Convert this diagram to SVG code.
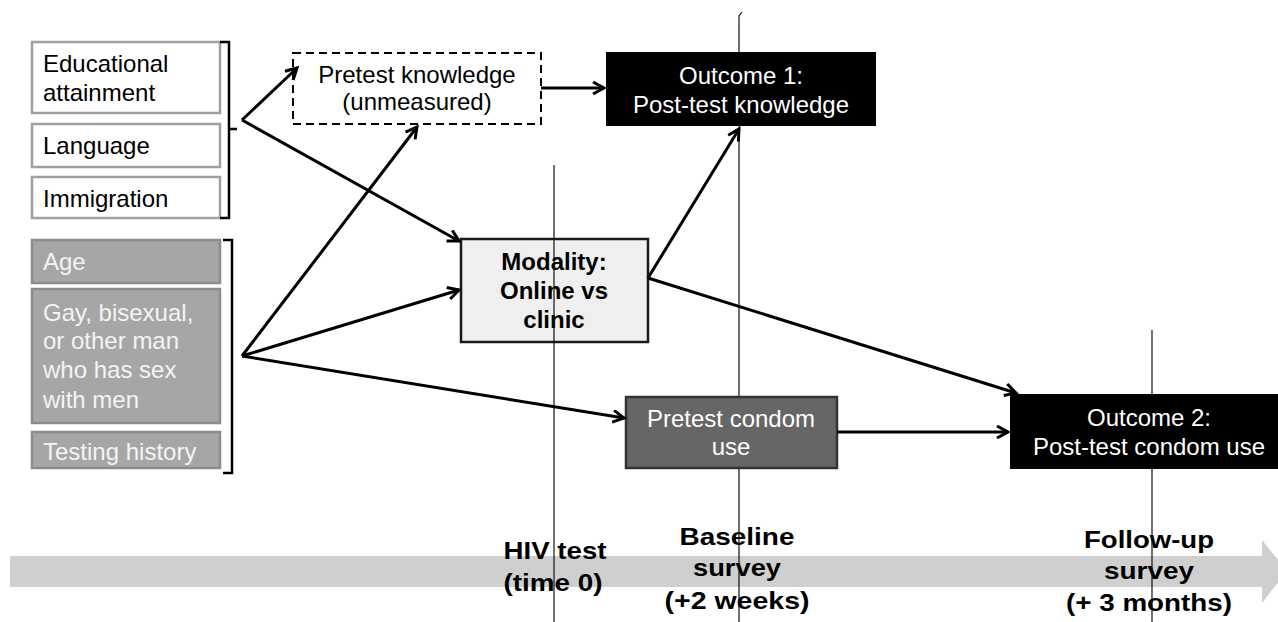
<svg xmlns="http://www.w3.org/2000/svg" width="1278" height="622" viewBox="0 0 1278 622">
<defs>
<style>
text{font-family:"Liberation Sans",Arial,sans-serif;font-size:24px}
.wb{fill:#fff;stroke:#a0a0a0;stroke-width:2.5}
.gb{fill:#a6a6a6;stroke:#8c8c8c;stroke-width:2.5}
.gt{fill:#f4f4f4}
.br{fill:none;stroke:#000;stroke-width:2.5}
.c{fill:none;stroke:#000;stroke-width:3;marker-end:url(#ah)}
.vl{fill:none;stroke:#111;stroke-width:1.2}
.tl{font-weight:bold;text-anchor:middle}
.mid{text-anchor:middle}
</style>
<marker id="ah" markerUnits="userSpaceOnUse" markerWidth="16" markerHeight="16" refX="12" refY="7" orient="auto">
<path d="M1,1 L12,7 L1,13" fill="none" stroke="#000" stroke-width="3"/>
</marker>
</defs>
<rect width="1278" height="622" fill="#fff"/>

<g id="timeline">
<path d="M10,556 L1262,556 L1262,540 L1287,571 L1262,603 L1262,587 L10,587 Z" fill="#cfcfcf"/>
<text class="tl" x="555" y="559" textLength="103" lengthAdjust="spacingAndGlyphs">HIV test</text>
<text class="tl" x="553" y="591" textLength="99" lengthAdjust="spacingAndGlyphs">(time 0)</text>
<text class="tl" x="737" y="545" textLength="115" lengthAdjust="spacingAndGlyphs">Baseline</text>
<text class="tl" x="737" y="576" textLength="88" lengthAdjust="spacingAndGlyphs">survey</text>
<text class="tl" x="737" y="609" textLength="145" lengthAdjust="spacingAndGlyphs">(+2 weeks)</text>
<text class="tl" x="1149" y="548" textLength="130" lengthAdjust="spacingAndGlyphs">Follow-up</text>
<text class="tl" x="1149" y="579" textLength="90" lengthAdjust="spacingAndGlyphs">survey</text>
<text class="tl" x="1149" y="611" textLength="166" lengthAdjust="spacingAndGlyphs">(+ 3 months)</text>
</g>

<g id="modality">
<rect x="461" y="239" width="187" height="103" fill="#efefef" stroke="#1a1a1a" stroke-width="2.5"/>
<text class="mid" x="554" y="270" font-weight="bold">Modality:</text>
<text class="mid" x="554" y="299" font-weight="bold">Online vs</text>
<text class="mid" x="554" y="328" font-weight="bold">clinic</text>
</g>

<g id="time-markers">
<line class="vl" x1="554" y1="165" x2="554" y2="622"/>
<path class="vl" d="M739,622 L739,16 L742,12"/>
<line class="vl" x1="1152" y1="330" x2="1152" y2="622"/>
</g>

<g id="educational-attainment">
<rect class="wb" x="32" y="42" width="188" height="71"/>
<text x="43" y="72">Educational</text>
<text x="43" y="101">attainment</text>
</g>
<g id="language">
<rect class="wb" x="32" y="124" width="188" height="43"/>
<text x="43" y="154">Language</text>
</g>
<g id="immigration">
<rect class="wb" x="32" y="177" width="188" height="41"/>
<text x="43" y="207">Immigration</text>
</g>
<g id="bracket-1">
<path class="br" d="M220,42 L229,42 L229,218 L220,218 M229,129 L237,129"/>
</g>

<g id="age">
<rect class="gb" x="32" y="240" width="188" height="43"/>
<text class="gt" x="43" y="270">Age</text>
</g>
<g id="gbmsm">
<rect class="gb" x="32" y="289" width="188" height="134"/>
<text class="gt" x="43" y="321">Gay, bisexual,</text>
<text class="gt" x="43" y="349">or other man</text>
<text class="gt" x="43" y="378">who has sex</text>
<text class="gt" x="43" y="408">with men</text>
</g>
<g id="testing-history">
<rect class="gb" x="32" y="432" width="188" height="36"/>
<text class="gt" x="43" y="460">Testing history</text>
</g>
<g id="bracket-2">
<path class="br" d="M223,240 L232,240 L232,473 L223,473"/>
</g>

<g id="pretest-knowledge">
<rect x="293" y="53" width="248" height="71" fill="#fff" stroke="#000" stroke-width="2" stroke-dasharray="8,5"/>
<text class="mid" x="417" y="83">Pretest knowledge</text>
<text class="mid" x="417" y="110">(unmeasured)</text>
</g>

<g id="outcome-1">
<rect x="606" y="52" width="270" height="74" fill="#000"/>
<text class="mid" x="741" y="84" fill="#fff">Outcome 1:</text>
<text class="mid" x="741" y="113" fill="#fff">Post-test knowledge</text>
</g>

<g id="pretest-condom-use">
<rect x="626" y="397" width="211" height="71" fill="#666" stroke="#333" stroke-width="2.5"/>
<text class="mid" x="731" y="427" fill="#fff">Pretest condom</text>
<text class="mid" x="731" y="455" fill="#fff">use</text>
</g>

<g id="outcome-2">
<rect x="1010" y="394" width="270" height="75" fill="#000"/>
<text class="mid" x="1149" y="426" fill="#fff">Outcome 2:</text>
<text class="mid" x="1149" y="455" fill="#fff">Post-test condom use</text>
</g>

<g id="connectors">
<path class="c" d="M242,120 L297,68"/>
<path class="c" d="M242,120 L459,241"/>
<path class="c" d="M541,88 L604,88"/>
<path class="c" d="M242,356 L417,127"/>
<path class="c" d="M242,356 L459,290"/>
<path class="c" d="M242,356 L624,418"/>
<path class="c" d="M648,278 L739,129"/>
<path class="c" d="M648,278 L1016,393"/>
<path class="c" d="M837,432 L1008,432"/>
</g>
</svg>
